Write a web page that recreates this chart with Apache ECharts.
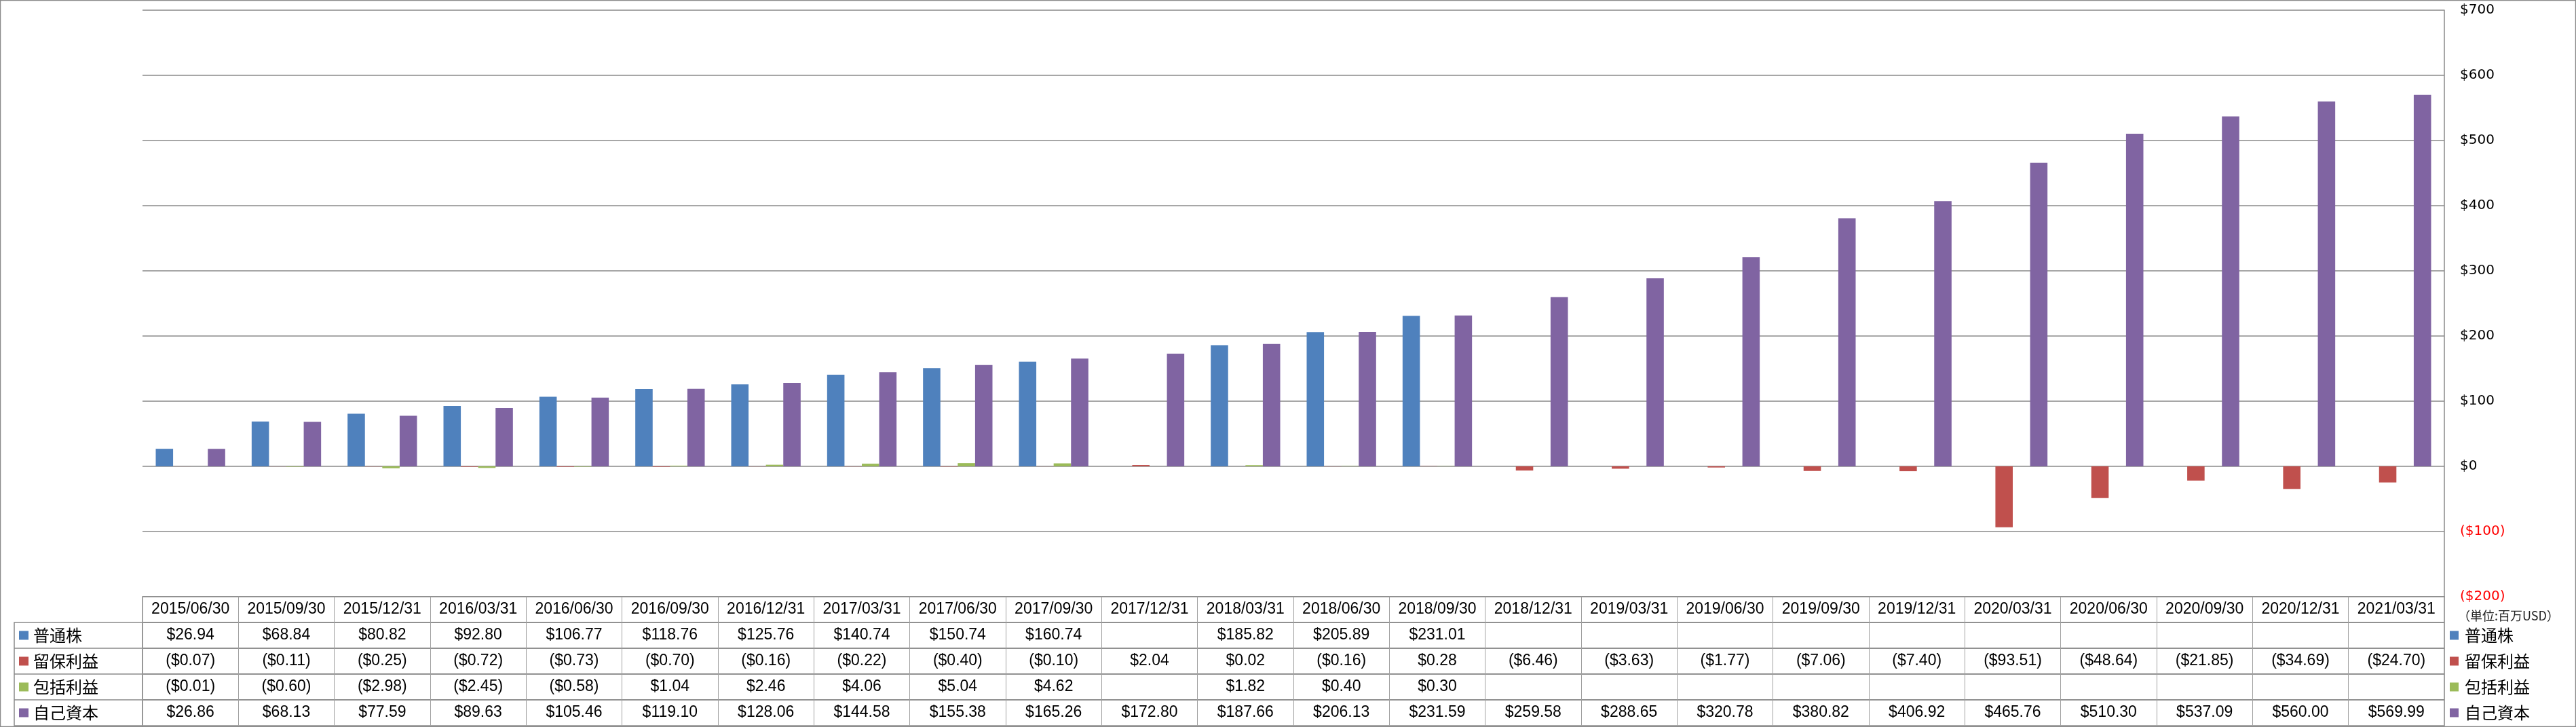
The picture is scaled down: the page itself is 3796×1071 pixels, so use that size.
<!DOCTYPE html>
<html>
<head>
<meta charset="utf-8">
<script src="https://cdn.jsdelivr.net/npm/echarts@6/dist/echarts.min.js"></script>
<style>
html, body { margin: 0; padding: 0; background: #fff; }
#main { width: 3796px; height: 1071px; }
</style>
</head>
<body>
<div id="main"></div>
<script>
var dates = ['2015/06/30', '2015/09/30', '2015/12/31', '2016/03/31', '2016/06/30', '2016/09/30',
	'2016/12/31', '2017/03/31', '2017/06/30', '2017/09/30', '2017/12/31', '2018/03/31',
	'2018/06/30', '2018/09/30', '2018/12/31', '2019/03/31', '2019/06/30', '2019/09/30',
	'2019/12/31', '2020/03/31', '2020/06/30', '2020/09/30', '2020/12/31', '2021/03/31'];
var seriesNames = ['普通株', '留保利益', '包括利益', '自己資本'];
var commonStock = [26.94, 68.84, 80.82, 92.80, 106.77, 118.76, 125.76, 140.74, 150.74, 160.74, null, 185.82,
	205.89, 231.01, null, null, null, null, null, null, null, null, null, null];
var retained = [-0.07, -0.11, -0.25, -0.72, -0.73, -0.70, -0.16, -0.22, -0.40, -0.10, 2.04, 0.02,
	-0.16, 0.28, -6.46, -3.63, -1.77, -7.06, -7.40, -93.51, -48.64, -21.85, -34.69, -24.70];
var comprehensive = [-0.01, -0.60, -2.98, -2.45, -0.58, 1.04, 2.46, 4.06, 5.04, 4.62, null, 1.82,
	0.40, 0.30, null, null, null, null, null, null, null, null, null, null];
var equity = [26.86, 68.13, 77.59, 89.63, 105.46, 119.10, 128.06, 144.58, 155.38, 165.26, 172.80, 187.66,
	206.13, 231.59, 259.58, 288.65, 320.78, 380.82, 406.92, 465.76, 510.30, 537.09, 560.00, 569.99];
var yTicks = { min: -200, max: 700, interval: 100 };
var unitLabel = '（単位:百万USD）';
var colors = ['#4F81BD', '#C0504D', '#9BBB59', '#8064A2'];

var allData = [commonStock, retained, comprehensive, equity];

var chart = echarts.init(document.getElementById('main'));

var plotLeft = 210, plotRight = 194;   // plot ends at x=3602
var tableTop = 879, rowH = 38;
var tableFont = '"Liberation Sans", Arial, sans-serif';
var cjkFont = '"Noto Sans CJK JP", sans-serif';
var lineColor = '#8a8a8a';

function money(v) {
	if (v == null) return '';
	if (v < 0) return '($' + Math.abs(v).toFixed(2) + ')';
	return '$' + v.toFixed(2);
}

// main grid + table rows (header + 4 series)
var grids = [{ left: plotLeft, right: plotRight, top: 15, height: tableTop - 15 }];
var xAxes = [{
	type: 'category', gridIndex: 0, data: dates,
	axisLine: { show: false }, axisTick: { show: false }, axisLabel: { show: false }
}];
var yAxes = [{
	type: 'value', gridIndex: 0, position: 'right',
	min: yTicks.min, max: yTicks.max, interval: yTicks.interval,
	name: unitLabel, nameLocation: 'start', nameGap: 28,
	nameTextStyle: {
		fontSize: 18, fontFamily: cjkFont, color: '#222',
		align: 'left', verticalAlign: 'middle', padding: [0, 0, 0, 20]
	},
	axisLine: { show: true, lineStyle: { color: lineColor, width: 1.5 } },
	axisTick: { show: false },
	splitLine: { lineStyle: { color: lineColor, width: 1.5 } },
	axisLabel: {
		margin: 23, align: 'left', fontSize: 20, fontFamily: '"DejaVu Sans", sans-serif',
		formatter: function (v) { return v < 0 ? '($' + (-v) + ')' : '$' + v; },
		color: function (v) { return Number(v) < 0 ? '#ff0000' : '#000'; }
	}
}];

for (var r = 0; r < 5; r++) {
	grids.push({
		left: plotLeft, right: plotRight, top: tableTop + r * rowH, height: rowH,
		show: true, borderColor: lineColor, borderWidth: 1.5, backgroundColor: 'transparent'
	});
	(function (r) {
		xAxes.push({
			type: 'category', gridIndex: r + 1, data: dates,
			axisLine: { show: false }, axisTick: { show: false },
			splitLine: { show: true, interval: 0, lineStyle: { color: '#a0a0a0', width: 1 } },
			axisLabel: {
				interval: 0, margin: -19, verticalAlign: 'middle',
				fontSize: 23, fontFamily: tableFont, color: '#000',
				formatter: function (val, idx) {
					return r === 0 ? val : money(allData[r - 1][idx]);
				}
			}
		});
	})(r);
	if (r === 0) {
		yAxes.push({ type: 'value', gridIndex: 1, show: false });
	} else {
		yAxes.push({
			type: 'category', gridIndex: r + 1, data: [seriesNames[r - 1]],
			axisLine: { show: false }, axisTick: { show: false },
			axisLabel: {
				margin: plotLeft - 28, align: 'left',
				formatter: '{sq|}{t|' + seriesNames[r - 1] + '}',
				rich: {
					sq: { width: 14, height: 13, backgroundColor: colors[r - 1] },
					t: { fontSize: 24, fontFamily: cjkFont, color: '#000', padding: [0, 0, 0, 7] }
				}
			}
		});
	}
}

var series = seriesNames.map(function (name, i) {
	return {
		name: name, type: 'bar', xAxisIndex: 0, yAxisIndex: 0,
		data: allData[i], itemStyle: { color: colors[i] },
		barGap: '0%', barCategoryGap: '27.6%'
	};
});

// one legend per row, aligned to the table rows on the right
var legends = seriesNames.map(function (name, i) {
	return {
		data: [name], orient: 'vertical', left: 3610, top: tableTop + rowH + i * rowH + 5,
		icon: 'rect', itemWidth: 13, itemHeight: 13, padding: 0,
		textStyle: { fontSize: 24, lineHeight: 28, fontFamily: cjkFont, color: '#000', padding: [0, 0, 0, 4] }
	};
});

// left column borders of the data table
var colTop = tableTop + rowH, colBottom = tableTop + 5 * rowH;
var graphics = [
	{ type: 'rect', shape: { x: 0.5, y: 0.5, width: 3795, height: 1070 },
	  style: { fill: 'none', stroke: lineColor, lineWidth: 1.5 }, silent: true },
	{ type: 'rect', shape: { x: 21, y: colTop, width: plotLeft - 21, height: colBottom - colTop },
	  style: { fill: 'none', stroke: lineColor, lineWidth: 1.5 }, silent: true }
];
for (var k = 1; k < 4; k++) {
	graphics.push({ type: 'line', shape: { x1: 21, y1: colTop + k * rowH, x2: plotLeft, y2: colTop + k * rowH },
		style: { stroke: lineColor, lineWidth: 1.5 }, silent: true });
}

chart.setOption({
	animation: false,
	backgroundColor: '#fff',
	grid: grids,
	xAxis: xAxes,
	yAxis: yAxes,
	legend: legends,
	series: series,
	graphic: graphics
});
</script>
</body>
</html>
